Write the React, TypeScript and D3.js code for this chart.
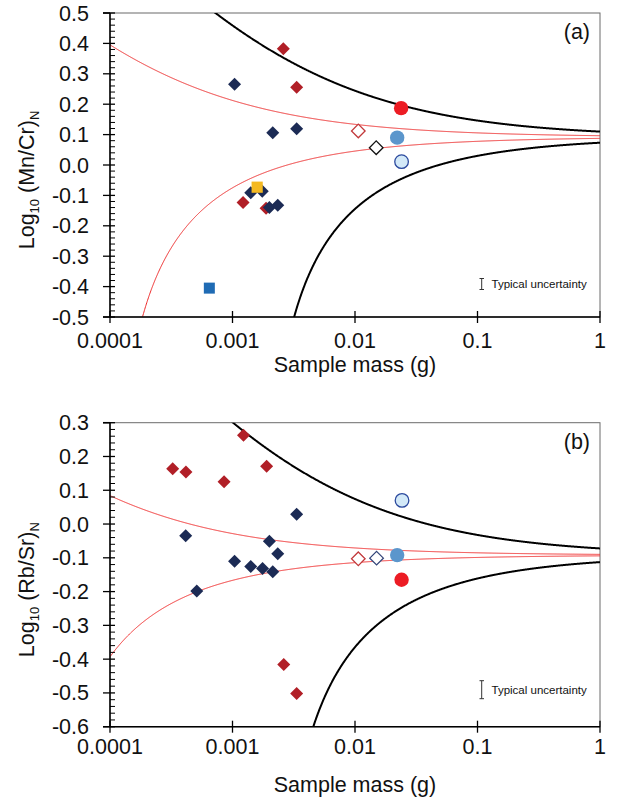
import React from "react";
import * as d3 from "d3";

// ---------- shared axis data ----------
const X_TICKS = [0.0001, 0.001, 0.01, 0.1, 1];
const X_TICK_LABELS = ["0.0001", "0.001", "0.01", "0.1", "1"];
const A_Y_TICKS = [0.5, 0.4, 0.3, 0.2, 0.1, 0.0, -0.1, -0.2, -0.3, -0.4, -0.5];
const A_Y_LABELS = ["0.5", "0.4", "0.3", "0.2", "0.1", "0.0", "-0.1", "-0.2", "-0.3", "-0.4", "-0.5"];
const B_Y_TICKS = [0.3, 0.2, 0.1, 0.0, -0.1, -0.2, -0.3, -0.4, -0.5, -0.6];
const B_Y_LABELS = ["0.3", "0.2", "0.1", "0.0", "-0.1", "-0.2", "-0.3", "-0.4", "-0.5", "-0.6"];

// ---------- panel (a): Mn/Cr ----------
const A_NAVY_MASS = [0.00104, 0.00213, 0.00334, 0.00141, 0.00175, 0.002, 0.00234];
const A_NAVY_VAL = [0.266, 0.106, 0.119, -0.091, -0.086, -0.14, -0.132];
const A_RED_MASS = [0.0026, 0.00334, 0.00122, 0.00188];
const A_RED_VAL = [0.382, 0.256, -0.123, -0.142];
const A_YELLOW_MASS = [0.00159];
const A_YELLOW_VAL = [-0.073];
const A_BLUESQ_MASS = [0.000647];
const A_BLUESQ_VAL = [-0.405];
const A_OPENRED_MASS = [0.01064];
const A_OPENRED_VAL = [0.112];
const A_OPENDARK_MASS = [0.0149];
const A_OPENDARK_VAL = [0.057];
const A_STEEL_MASS = [0.0221];
const A_STEEL_VAL = [0.09];
const A_OPENCIRC_MASS = [0.024];
const A_OPENCIRC_VAL = [0.011];
const A_REDCIRC_MASS = [0.0238];
const A_REDCIRC_VAL = [0.187];
// model envelopes: centre + log10(1 ± k / sqrt(mass))
const A_CENTRE = 0.092;
const A_BLACK_K = 0.042;
const A_RED_K = 0.0101;

// ---------- panel (b): Rb/Sr ----------
const B_RED_MASS = [0.000325, 0.000417, 0.000853, 0.00123, 0.0019, 0.00262, 0.00334];
const B_RED_VAL = [0.164, 0.154, 0.125, 0.263, 0.171, -0.416, -0.502];
const B_NAVY_MASS = [0.000415, 0.000511, 0.00104, 0.00141, 0.00176, 0.00213, 0.002, 0.00234, 0.00334];
const B_NAVY_VAL = [-0.035, -0.198, -0.11, -0.126, -0.132, -0.141, -0.051, -0.088, 0.029];
const B_OPENCIRC_MASS = [0.0242];
const B_OPENCIRC_VAL = [0.07];
const B_STEEL_MASS = [0.0221];
const B_STEEL_VAL = [-0.092];
const B_REDCIRC_MASS = [0.024];
const B_REDCIRC_VAL = [-0.165];
const B_OPENRED_MASS = [0.01064];
const B_OPENRED_VAL = [-0.103];
const B_OPENDARK_MASS = [0.015];
const B_OPENDARK_VAL = [-0.101];
const B_CENTRE = -0.092;
const B_BLACK_K = 0.0466;
const B_RED_K = 0.005;

const FONT = "'Liberation Sans', Arial, Helvetica, sans-serif";
const NAVY = "#1c2b55";
const DARKRED = "#b11f27";
const BRIGHTRED = "#ec1c24";
const STEEL = "#5b96cc";

function envelope(centre: number, k: number, sign: number): [number, number][] {
  const pts: [number, number][] = [];
  const n = 1200;
  for (let i = 0; i <= n; i++) {
    const lm = -4 + (4 * i) / n;
    const m = Math.pow(10, lm);
    const arg = 1 + (sign * k) / Math.sqrt(m);
    if (arg > 0.02) pts.push([m, centre + Math.log10(arg)]);
  }
  return pts;
}

const zip = (a: number[], b: number[]) => a.map((v, i) => [v, b[i]] as [number, number]);

type Marker = { kind: string; mass: number[]; val: number[] };

function Panel(props: {
  id: string;
  top: number;
  yDomain: [number, number];
  yTicks: number[];
  yLabels: string[];
  label: string;
  ratio: string;
  centre: number;
  blackK: number;
  redK: number;
  markers: Marker[];
  uncHalf: number;
  openDarkColor: string;
  tickLabelOffset: number;
  titleOffset: number;
}) {
  const left = 110;
  const right = 600;
  const top = props.top;
  const bottom = top + 304;
  const x = d3.scaleLog().domain([0.0001, 1]).range([left, right]);
  const y = d3.scaleLinear().domain(props.yDomain).range([bottom, top]);
  const line = d3
    .line<[number, number]>()
    .x((d) => x(d[0]))
    .y((d) => y(d[1]));

  const minor: number[] = [];
  const lo = Math.round(props.yDomain[0] * 100);
  const hi = Math.round(props.yDomain[1] * 100);
  for (let v = lo; v <= hi; v += 2) {
    if (v % 10 !== 0) minor.push(v / 100);
  }

  const diamond = (r: number) => `M0,${-r}L${r},0L0,${r}L${-r},0Z`;

  const drawMarker = (mk: Marker, i: number) =>
    zip(mk.mass, mk.val).map((d, j) => {
      const cx = x(d[0]);
      const cy = y(d[1]);
      const key = `${props.id}-${i}-${j}`;
      switch (mk.kind) {
        case "navy":
          return <path key={key} d={diamond(6.5)} transform={`translate(${cx},${cy})`} fill={NAVY} />;
        case "red":
          return <path key={key} d={diamond(6.5)} transform={`translate(${cx},${cy})`} fill={DARKRED} />;
        case "openred":
          return (
            <path key={key} d={diamond(6.8)} transform={`translate(${cx},${cy})`} fill="#fff" stroke="#c23a3c" strokeWidth={1.3} />
          );
        case "opendark":
          return (
            <path key={key} d={diamond(6.8)} transform={`translate(${cx},${cy})`} fill="#fff" stroke={props.openDarkColor} strokeWidth={1.3} />
          );
        case "yellow":
          return <rect key={key} x={cx - 5.6} y={cy - 5.6} width={11.2} height={11.2} fill="#f4b922" />;
        case "bluesq":
          return <rect key={key} x={cx - 5.5} y={cy - 5.5} width={11} height={11} fill="#1f6bb4" />;
        case "steel":
          return <circle key={key} cx={cx} cy={cy} r={7.2} fill={STEEL} />;
        case "opencirc":
          return <circle key={key} cx={cx} cy={cy} r={6.8} fill="#d3e9f8" stroke="#2c4a9e" strokeWidth={1.3} />;
        case "redcirc":
          return <circle key={key} cx={cx} cy={cy} r={7.2} fill={BRIGHTRED} />;
        default:
          return null;
      }
    });

  const uncY = y(props.yDomain[0]) - (props.id === "a" ? 33 : 37);

  return (
    <g>
      <defs>
        <clipPath id={`clip-${props.id}`}>
          <rect x={left} y={top} width={right - left} height={bottom - top} />
        </clipPath>
      </defs>
      {/* frame */}
      <rect x={left} y={top} width={right - left} height={bottom - top} fill="#fff" stroke="#6b6b6b" strokeWidth={1} />
      {/* curves */}
      <g clipPath={`url(#clip-${props.id})`}>
        <path d={line(envelope(props.centre, props.redK, 1)) || ""} fill="none" stroke="#ee2a2a" strokeWidth={1} />
        <path d={line(envelope(props.centre, props.redK, -1)) || ""} fill="none" stroke="#ee2a2a" strokeWidth={1} />
        <path d={line(envelope(props.centre, props.blackK, 1)) || ""} fill="none" stroke="#000" strokeWidth={2} />
        <path d={line(envelope(props.centre, props.blackK, -1)) || ""} fill="none" stroke="#000" strokeWidth={2} />
        {props.markers.map(drawMarker)}
      </g>
      {/* axes */}
      <line x1={left} x2={left} y1={top} y2={bottom} stroke="#000" strokeWidth={1.5} />
      <line x1={left - 7} x2={right} y1={bottom} y2={bottom} stroke="#000" strokeWidth={1.5} />
      <line x1={left - 7} x2={left} y1={top} y2={top} stroke="#000" strokeWidth={1.5} />
      {props.yTicks.map((t, i) => (
        <g key={`yt${i}`}>
          <line x1={left - 7} x2={left + 5} y1={y(t)} y2={y(t)} stroke="#000" strokeWidth={1.3} />
          <text x={left - 21} y={y(t) + 7.5} textAnchor="end" fontSize={21.5} fontFamily={FONT} fill="#111">
            {props.yLabels[i]}
          </text>
        </g>
      ))}
      {minor.map((t, i) => (
        <line key={`ym${i}`} x1={left} x2={left + 5} y1={y(t)} y2={y(t)} stroke="#000" strokeWidth={1} />
      ))}
      {X_TICKS.map((t, i) => (
        <g key={`xt${i}`}>
          <line x1={x(t)} x2={x(t)} y1={bottom - 6} y2={bottom + 6} stroke="#000" strokeWidth={1.3} />
          <text x={x(t)} y={bottom + props.tickLabelOffset} textAnchor="middle" fontSize={21.5} fontFamily={FONT} fill="#111">
            {X_TICK_LABELS[i]}
          </text>
        </g>
      ))}
      {/* axis titles */}
      <text x={355} y={bottom + props.titleOffset} textAnchor="middle" fontSize={21.5} fontFamily={FONT} fill="#111">
        Sample mass (g)
      </text>
      <text
        transform={`translate(34,${(top + bottom) / 2 + 15}) rotate(-90)`}
        textAnchor="middle"
        fontSize={21.5}
        fontFamily={FONT}
        fill="#111"
      >
        Log
        <tspan fontSize={13} dy={5}>
          10
        </tspan>
        <tspan dy={-5}> {props.ratio}</tspan>
        <tspan fontSize={13} dy={5}>
          N
        </tspan>
      </text>
      {/* panel label */}
      <text x={590} y={top + 26} textAnchor="end" fontSize={21.5} fontFamily={FONT} fill="#111">
        {props.label}
      </text>
      {/* typical uncertainty */}
      <g stroke="#333" strokeWidth={1}>
        <line x1={481.7} x2={481.7} y1={uncY - props.uncHalf} y2={uncY + props.uncHalf} />
        <line x1={479.5} x2={484} y1={uncY - props.uncHalf} y2={uncY - props.uncHalf} />
        <line x1={479.5} x2={484} y1={uncY + props.uncHalf} y2={uncY + props.uncHalf} />
      </g>
      <text x={491.5} y={uncY + 4} fontSize={11.5} fontFamily={FONT} fill="#111">
        Typical uncertainty
      </text>
    </g>
  );
}

export default function App() {
  const aMarkers: Marker[] = [
    { kind: "red", mass: A_RED_MASS, val: A_RED_VAL },
    { kind: "navy", mass: A_NAVY_MASS, val: A_NAVY_VAL },
    { kind: "yellow", mass: A_YELLOW_MASS, val: A_YELLOW_VAL },
    { kind: "bluesq", mass: A_BLUESQ_MASS, val: A_BLUESQ_VAL },
    { kind: "openred", mass: A_OPENRED_MASS, val: A_OPENRED_VAL },
    { kind: "opendark", mass: A_OPENDARK_MASS, val: A_OPENDARK_VAL },
    { kind: "steel", mass: A_STEEL_MASS, val: A_STEEL_VAL },
    { kind: "opencirc", mass: A_OPENCIRC_MASS, val: A_OPENCIRC_VAL },
    { kind: "redcirc", mass: A_REDCIRC_MASS, val: A_REDCIRC_VAL },
  ];
  const bMarkers: Marker[] = [
    { kind: "red", mass: B_RED_MASS, val: B_RED_VAL },
    { kind: "navy", mass: B_NAVY_MASS, val: B_NAVY_VAL },
    { kind: "openred", mass: B_OPENRED_MASS, val: B_OPENRED_VAL },
    { kind: "opendark", mass: B_OPENDARK_MASS, val: B_OPENDARK_VAL },
    { kind: "steel", mass: B_STEEL_MASS, val: B_STEEL_VAL },
    { kind: "opencirc", mass: B_OPENCIRC_MASS, val: B_OPENCIRC_VAL },
    { kind: "redcirc", mass: B_REDCIRC_MASS, val: B_REDCIRC_VAL },
  ];
  return (
    <svg
      width={617}
      height={803}
      viewBox="0 0 617 803"
      style={{ position: "absolute", left: 0, top: 0, background: "#fff" }}
    >
      <rect x={0} y={0} width={617} height={803} fill="#fff" />
      <Panel
        id="a"
        top={13}
        yDomain={[-0.5, 0.5]}
        yTicks={A_Y_TICKS}
        yLabels={A_Y_LABELS}
        label="(a)"
        ratio="(Mn/Cr)"
        centre={A_CENTRE}
        blackK={A_BLACK_K}
        redK={A_RED_K}
        markers={aMarkers}
        uncHalf={5.5}
        openDarkColor="#111"
        tickLabelOffset={31}
        titleOffset={55}
      />
      <Panel
        id="b"
        top={422.7}
        yDomain={[-0.6, 0.3]}
        yTicks={B_Y_TICKS}
        yLabels={B_Y_LABELS}
        label="(b)"
        ratio="(Rb/Sr)"
        centre={B_CENTRE}
        blackK={B_BLACK_K}
        redK={B_RED_K}
        markers={bMarkers}
        uncHalf={9}
        openDarkColor="#34467a"
        tickLabelOffset={27}
        titleOffset={65}
      />
    </svg>
  );
}
